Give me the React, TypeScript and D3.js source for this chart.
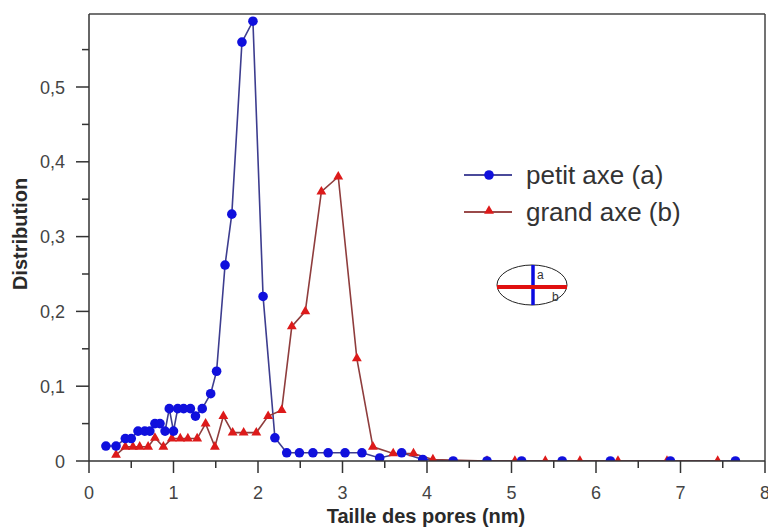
import React from "react";
import * as d3 from "d3";

const blueX = [0.2, 0.32, 0.43, 0.5, 0.58, 0.66, 0.72, 0.78, 0.84, 0.9, 0.95, 1.0, 1.05, 1.12, 1.2, 1.26, 1.34, 1.44, 1.51, 1.61, 1.69, 1.81, 1.94, 2.06, 2.2, 2.34, 2.49, 2.65, 2.83, 3.03, 3.23, 3.44, 3.7, 3.95, 4.31, 4.71, 5.12, 5.6, 6.17, 6.88, 7.65];
const blueY = [0.02, 0.02, 0.03, 0.03, 0.04, 0.04, 0.04, 0.05, 0.05, 0.04, 0.07, 0.04, 0.07, 0.07, 0.07, 0.06, 0.07, 0.09, 0.12, 0.262, 0.33, 0.56, 0.588, 0.22, 0.031, 0.011, 0.011, 0.011, 0.011, 0.011, 0.011, 0.004, 0.011, 0.002, 0, 0, 0, 0, 0, 0, 0];

const redX = [0.32, 0.43, 0.52, 0.6, 0.7, 0.78, 0.88, 0.98, 1.08, 1.17, 1.28, 1.38, 1.49, 1.59, 1.7, 1.83, 1.98, 2.12, 2.28, 2.4, 2.56, 2.75, 2.95, 3.17, 3.36, 3.6, 3.84, 4.07, 4.71, 5.04, 5.4, 5.81, 6.26, 6.84, 7.44];
const redY = [0.008, 0.019, 0.019, 0.019, 0.019, 0.031, 0.019, 0.03, 0.03, 0.03, 0.03, 0.05, 0.019, 0.06, 0.038, 0.038, 0.038, 0.06, 0.068, 0.18, 0.2, 0.36, 0.38, 0.137, 0.019, 0.01, 0.01, 0.002, 0, 0, 0, 0, 0, 0, 0];

const xTicks = [0, 1, 2, 3, 4, 5, 6, 7, 8];
const xMinor = [0.5, 1.5, 2.5, 3.5, 4.5, 5.5, 6.5, 7.5];
const yTicks = [0, 0.1, 0.2, 0.3, 0.4, 0.5];
const yMinor = [0.05, 0.15, 0.25, 0.35, 0.45, 0.55];
const seriesNames = ["petit axe (a)", "grand axe (b)"];
const xTitle = "Taille des pores (nm)";
const yTitle = "Distribution";

const W = 768, H = 529;
const L = 89, R = 765, T = 14, B = 461;

export default function App() {
  const x = d3.scaleLinear().domain([0, 8]).range([L, R]);
  const y = d3.scaleLinear().domain([0, 0.6]).range([B, B - 0.6 * 748]);
  const blue = blueX.map((v, i) => [v, blueY[i]] as [number, number]);
  const red = redX.map((v, i) => [v, redY[i]] as [number, number]);
  const line = d3.line<[number, number]>().x(d => x(d[0])).y(d => y(d[1]));
  const tri = d3.symbol().type(d3.symbolTriangle).size(42)();
  const fmt = (v: number) => (v === 0 ? "0" : d3.format(".1f")(v).replace(".", ","));
  const font = "'Liberation Sans', Arial, sans-serif";
  return (
    <svg width={W} height={H} style={{ position: "absolute", left: 0, top: 0, background: "#fff" }} fontFamily={font}>
      <defs>
        <clipPath id="plot">
          <rect x={L} y={T} width={R - L} height={B - T} />
        </clipPath>
      </defs>
      <g clipPath="url(#plot)">
        <path d={line(blue) || ""} fill="none" stroke="#3d3d8f" strokeWidth={1.6} />
        <path d={line(red) || ""} fill="none" stroke="#8f3d3d" strokeWidth={1.6} />
        {red.map((d, i) => (
          <path key={"r" + i} d={tri || ""} transform={`translate(${x(d[0])},${y(d[1])})`} fill="#dd1a1a" />
        ))}
        {blue.map((d, i) => (
          <circle key={"b" + i} cx={x(d[0])} cy={y(d[1])} r={4.8} fill="#1010dd" />
        ))}
      </g>
      {/* frame */}
      <line x1={L} x2={R} y1={T} y2={T} stroke="#444" strokeWidth={1.5} />
      <line x1={R} x2={R} y1={T} y2={B} stroke="#444" strokeWidth={1.5} />
      <line x1={L} x2={L} y1={T} y2={B} stroke="#333" strokeWidth={1.5} />
      <line x1={L} x2={R} y1={B} y2={B} stroke="#333" strokeWidth={1.5} />
      {/* x ticks */}
      {xTicks.map(t => (
        <g key={"xt" + t}>
          <line x1={x(t)} x2={x(t)} y1={B} y2={B + 12} stroke="#333" strokeWidth={1.5} />
          <text x={x(t)} y={499} textAnchor="middle" fontSize={18} fill="#444">{t}</text>
        </g>
      ))}
      {xMinor.map(t => (
        <line key={"xm" + t} x1={x(t)} x2={x(t)} y1={B} y2={B + 7} stroke="#333" strokeWidth={1.5} />
      ))}
      {yTicks.map(t => (
        <g key={"yt" + t}>
          <line x1={L - 13} x2={L} y1={y(t)} y2={y(t)} stroke="#333" strokeWidth={1.5} />
          <text x={65} y={y(t) + 6.5} textAnchor="end" fontSize={18} fill="#444">{fmt(t)}</text>
        </g>
      ))}
      {yMinor.map(t => (
        <line key={"ym" + t} x1={L - 7} x2={L} y1={y(t)} y2={y(t)} stroke="#333" strokeWidth={1.5} />
      ))}
      <text x={426} y={523} textAnchor="middle" fontSize={20} fontWeight="bold" fill="#2a2a2a">{xTitle}</text>
      <text transform="translate(27,234) rotate(-90)" textAnchor="middle" fontSize={20} fontWeight="bold" fill="#2a2a2a">{yTitle}</text>
      {/* legend */}
      <line x1={464} x2={512} y1={175} y2={175} stroke="#4a4a9a" strokeWidth={2} />
      <circle cx={489} cy={175} r={4.8} fill="#1010dd" />
      <text x={526} y={184} fontSize={26} fill="#333">{seriesNames[0]}</text>
      <line x1={464} x2={512} y1={212} y2={212} stroke="#9a4a4a" strokeWidth={2} />
      <path d={tri || ""} transform="translate(489,211)" fill="#dd1a1a" />
      <text x={526} y={221} fontSize={26} fill="#333">{seriesNames[1]}</text>
      {/* ellipse inset */}
      <ellipse cx={532} cy={285} rx={35} ry={20} fill="#fff" stroke="#222" strokeWidth={1} />
      <line x1={533} x2={533} y1={265} y2={305} stroke="#0a0ae0" strokeWidth={3.5} />
      <line x1={497} x2={567} y1={287} y2={287} stroke="#e01010" strokeWidth={4} />
      <text x={537} y={279} fontSize={12} fill="#333">a</text>
      <text x={552} y={301} fontSize={12} fill="#333">b</text>
    </svg>
  );
}
